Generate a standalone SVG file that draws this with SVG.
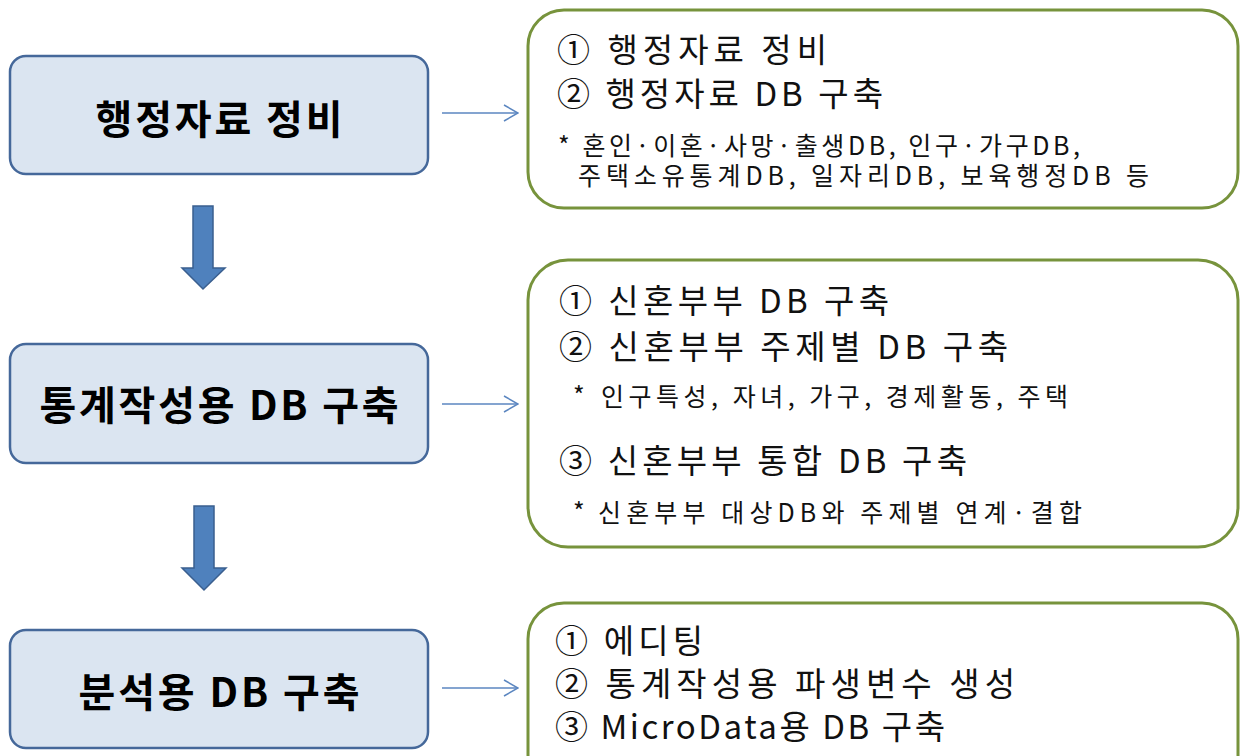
<svg xmlns="http://www.w3.org/2000/svg" width="1242" height="756" viewBox="0 0 1242 756">
<style>
.lbox{fill:#dbe5f1;stroke:#45689a;stroke-width:2.5}
.rbox{fill:#ffffff;stroke:#77933c;stroke-width:3}
.lt{font-family:"Noto Sans CJK KR","Noto Sans",sans-serif;font-weight:700;font-size:40px;fill:#000;text-anchor:middle}
.rt{font-family:"Noto Sans CJK KR","Noto Sans",sans-serif;font-size:33px;fill:#111}
.st{font-family:"Noto Sans CJK KR","Noto Sans",sans-serif;font-size:25px;fill:#111}
.darrow{fill:#4f81bd;stroke:#3a5f8f;stroke-width:1.5}
.conn{stroke:#5b86c0;stroke-width:1.5;fill:none}
</style>
<defs>
<marker id="chev" viewBox="0 0 16 18" refX="15" refY="9" markerWidth="16" markerHeight="18" markerUnits="userSpaceOnUse" orient="auto">
<path d="M1,1 L15,9 L1,17" fill="none" stroke="#5b86c0" stroke-width="1.5"/>
</marker>
</defs>
<g id="node-admin">
<rect class="lbox" x="10" y="56" width="418" height="118" rx="16"/>
<text class="lt" x="219" y="134" textLength="247" lengthAdjust="spacing">행정자료 정비</text>
</g>
<g id="node-statdb">
<rect class="lbox" x="10" y="344" width="418" height="119" rx="16"/>
<text class="lt" x="219" y="420" textLength="359" lengthAdjust="spacing">통계작성용 DB 구축</text>
</g>
<g id="node-analysis">
<rect class="lbox" x="10" y="630" width="418" height="118" rx="16"/>
<text class="lt" x="219" y="707" textLength="281" lengthAdjust="spacing">분석용 DB 구축</text>
</g>
<g id="detail-admin">
<rect class="rbox" x="528" y="10" width="710" height="198" rx="36"/>
<text class="rt" x="557" y="62" textLength="270" lengthAdjust="spacing">① 행정자료 정비</text>
<text class="rt" x="557" y="106" textLength="326" lengthAdjust="spacing">② 행정자료 DB 구축</text>
<text class="st" x="558" y="155" textLength="522" lengthAdjust="spacing">* 혼인·이혼·사망·출생DB, 인구·가구DB,</text>
<text class="st" x="578" y="185" textLength="571" lengthAdjust="spacing">주택소유통계DB, 일자리DB, 보육행정DB 등</text>
</g>
<g id="detail-statdb">
<rect class="rbox" x="528" y="260" width="710" height="287" rx="40"/>
<text class="rt" x="559" y="313" font-size="34" textLength="330" lengthAdjust="spacing">① 신혼부부 DB 구축</text>
<text class="rt" x="559" y="359" font-size="34" textLength="449" lengthAdjust="spacing">② 신혼부부 주제별 DB 구축</text>
<text class="st" x="573" y="405" font-size="26">*</text>
<text class="st" x="601" y="406" font-size="26" textLength="467" lengthAdjust="spacing">인구특성, 자녀, 가구, 경제활동, 주택</text>
<text class="rt" x="559" y="473" font-size="34" textLength="408" lengthAdjust="spacing">③ 신혼부부 통합 DB 구축</text>
<text class="st" x="573" y="521" font-size="26">*</text>
<text class="st" x="598" y="522" font-size="26" textLength="484" lengthAdjust="spacing">신혼부부 대상DB와 주제별 연계·결합</text>
</g>
<g id="detail-analysis">
<rect class="rbox" x="528" y="603" width="710" height="200" rx="36"/>
<text class="rt" x="555" y="653" textLength="148" lengthAdjust="spacing">① 에디팅</text>
<text class="rt" x="555" y="696" textLength="460" lengthAdjust="spacing">② 통계작성용 파생변수 생성</text>
<text class="rt" x="555" y="739" textLength="390" lengthAdjust="spacing">③ MicroData용 DB 구축</text>
</g>
<g id="connectors">
<path class="darrow" d="M193,206 L213,206 L213,268 L225,268 L203,289 L182,268 L193,268 Z"/>
<path class="darrow" d="M194,506 L214,506 L214,568 L226,568 L204,590 L182,568 L194,568 Z"/>
<line class="conn" x1="442" y1="113" x2="518" y2="113" marker-end="url(#chev)"/>
<line class="conn" x1="442" y1="404" x2="518" y2="404" marker-end="url(#chev)"/>
<line class="conn" x1="442" y1="688" x2="518" y2="688" marker-end="url(#chev)"/>
</g>
</svg>
